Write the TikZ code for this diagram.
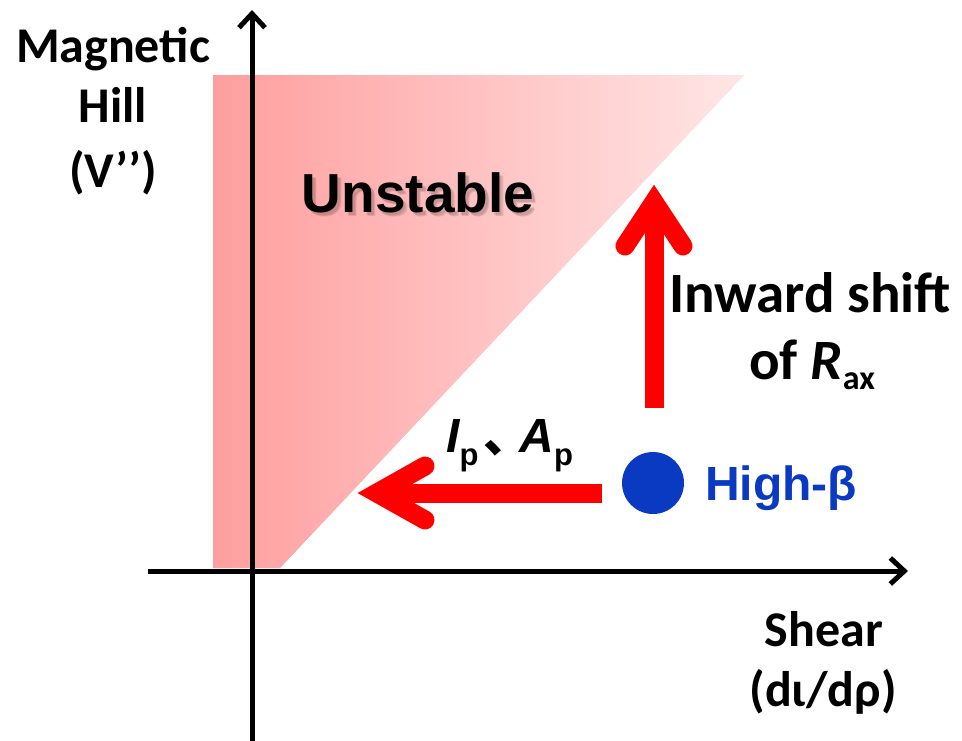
\documentclass[tikz,border=0pt]{standalone}
\usepackage{fontspec}
\setmainfont{Carlito}
\newfontfamily\arialf{Liberation Sans}
\newfontfamily\cjkf{Noto Sans CJK SC}
\usetikzlibrary{arrows.meta}
\definecolor{pinkL}{HTML}{FF9E9E}
\definecolor{pinkR}{HTML}{FFE6E6}
\definecolor{arrred}{HTML}{FF0000}
\definecolor{hbblue}{HTML}{0B3AC2}
\tikzset{
  axisline/.style={line width=5pt, -{Straight Barb[length=14pt,width=26pt,line width=5pt]}},
  redshaft/.style={draw=arrred, line width=19pt, line cap=butt},
  redhead/.style={draw=arrred, line width=19pt, line cap=round, line join=miter},
  lab/.style={font=\fontsize{50}{61}\selectfont\bfseries, inner sep=0pt},
  biglab/.style={font=\fontsize{57}{68}\selectfont\bfseries, inner sep=0pt},
  arlab/.style={font=\arialf\fontsize{48}{58}\selectfont\bfseries, inner sep=0pt},
  unst/.style={font=\arialf\fontsize{55}{60}\selectfont\bfseries, inner sep=0pt, anchor=base},
}
\begin{document}
\begin{tikzpicture}[x=1pt,y=-1pt]
\useasboundingbox (0,0) rectangle (962,740);
% unstable region
\coordinate (pA) at (213,75);
\coordinate (pB) at (744,75);
\coordinate (pC) at (280,568);
\coordinate (pD) at (213,568);
\foreach \i in {1,...,7}{
  \fill[black, opacity=0.025, shift={(0.8*\i,1.0*\i)}] (pA) -- (pB) -- (pC) -- (pD) -- cycle;
}
\shade[left color=pinkL, right color=pinkR] (pA) -- (pB) -- (pC) -- (pD) -- cycle;
% axes
\coordinate (xs) at (148,571);
\coordinate (xe) at (908,571);
\coordinate (ys) at (252,742);
\coordinate (ye) at (252,10);
\draw[axisline] (xs) -- (xe);
\draw[axisline] (ys) -- (ye);
% Unstable label with soft shadow
\node[unst, text=black, opacity=0.12] (unshadow) at (420.5,215) {Unstable};
\node[unst, text=black, opacity=0.10] (unshadow2) at (422,216.5) {Unstable};
\node[unst] (unstable) at (418,212) {Unstable};
% axis labels
\node[lab, anchor=base] (y1) at (113,62) {Magnetic};
\node[lab, anchor=base] (y2) at (113,122) {Hill};
\node[lab, anchor=base] (y3) at (113,187) {(V’’)};
\node[lab, anchor=base] (x1) at (824,646) {Shear};
\node[lab, anchor=base] (x2) at (823,706) {(dι/dρ)};
% up arrow
\coordinate (upTail) at (654,408);
\coordinate (upTip) at (654,202);
\coordinate (upShaftEnd) at (654,216);
\draw[redshaft] (upTail) -- (upShaftEnd);
\draw[redhead] (upTip) ++(-29,44) -- (upTip) -- ++(29,44);
\node[biglab, anchor=base] (inw) at (810,312) {Inward shift};
\node[biglab, anchor=base] (ofr) at (812,379) {of \textit{R}\raisebox{-10pt}{\fontsize{34}{34}\selectfont ax}};
% left arrow
\coordinate (lfTail) at (602,493);
\coordinate (lfTip) at (377,493);
\coordinate (lfShaftEnd) at (391,493);
\draw[redshaft] (lfTail) -- (lfShaftEnd);
\draw[redhead] (lfTip) ++(48,-27) -- (lfTip) -- ++(48,27);
\node[arlab, anchor=base west] (ipap) at (446,452) {\itshape I\upshape\raisebox{-13pt}{\fontsize{31}{31}\selectfont p}\hspace{5pt}{\cjkf 、}\hspace{-12pt}\itshape A\upshape\raisebox{-13pt}{\fontsize{31}{31}\selectfont p}};
% high beta point
\fill[hbblue] (653,483) circle[radius=31];
\node[arlab, anchor=base west, text=hbblue] (hb) at (705,500) {High-β};
\end{tikzpicture}
\end{document}
